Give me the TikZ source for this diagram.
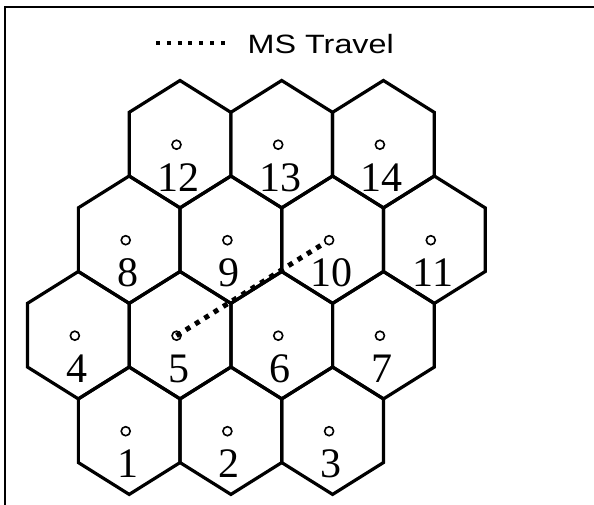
\documentclass[tikz,border=0pt]{standalone}
\usepackage{graphicx}
\usepackage{fontspec}
\setmainfont{Liberation Serif}
\newfontfamily\legendfont{Liberation Sans}
\newcommand{\mycell}[3]{%
  \draw[hexline] (#1,#2-63.7) -- (#1+50.85,#2-31.85) -- (#1+50.85,#2+31.85)
    -- (#1,#2+63.7) -- (#1-50.85,#2+31.85) -- (#1-50.85,#2-31.85) -- cycle;
  \node[site] (c#3) at (#1-3.5,#2+0.5) {};
  \node[cellnum] (n#3) at (#1-1.5,#2+47) {#3};
}
\begin{document}
\begin{tikzpicture}[x=1pt,y=-1pt,
  hexline/.style={line width=3.2pt, line join=miter},
  site/.style={circle, draw, line width=1.6pt, inner sep=0pt, minimum size=9pt},
  cellnum/.style={font=\fontsize{42}{42}\selectfont, inner sep=0pt, anchor=base},
  travel/.style={line width=5pt, dash pattern=on 5pt off 6pt},
  legenddots/.style={line width=4pt, dash pattern=on 4pt off 6.8pt},
  frameline/.style={line width=2pt}]
\useasboundingbox (0,0) rectangle (594,505);
% frame (top and left edges)
\coordinate (f1) at (5,505);
\coordinate (f2) at (5,7);
\coordinate (f3) at (594,7);
\draw[frameline] (f1) -- (f2) -- (f3);
% legend
\coordinate (lg1) at (156,43);
\coordinate (lg2) at (225,43);
\draw[legenddots] (lg1) -- (lg2);
\node[anchor=base west, inner sep=0pt, font=\legendfont\fontsize{26.5}{26.5}\selectfont] (title) at (247.5,53.3) {\scalebox{1.22}[1]{MS Travel}};
% row 0
\mycell{180}{144.2}{12}
\mycell{281.7}{144.2}{13}
\mycell{383.4}{144.2}{14}
% row 1
\mycell{129.2}{239.7}{8}
\mycell{230.9}{239.7}{9}
\mycell{332.6}{239.7}{10}
\mycell{434.3}{239.7}{11}
% row 2
\mycell{78.35}{335.2}{4}
\mycell{180.05}{335.2}{5}
\mycell{281.75}{335.2}{6}
\mycell{383.45}{335.2}{7}
% row 3
\mycell{129.2}{430.7}{1}
\mycell{230.9}{430.7}{2}
\mycell{332.6}{430.7}{3}
% MS travel path
\draw[travel] (c5.center) -- (c10);
\end{tikzpicture}
\end{document}
